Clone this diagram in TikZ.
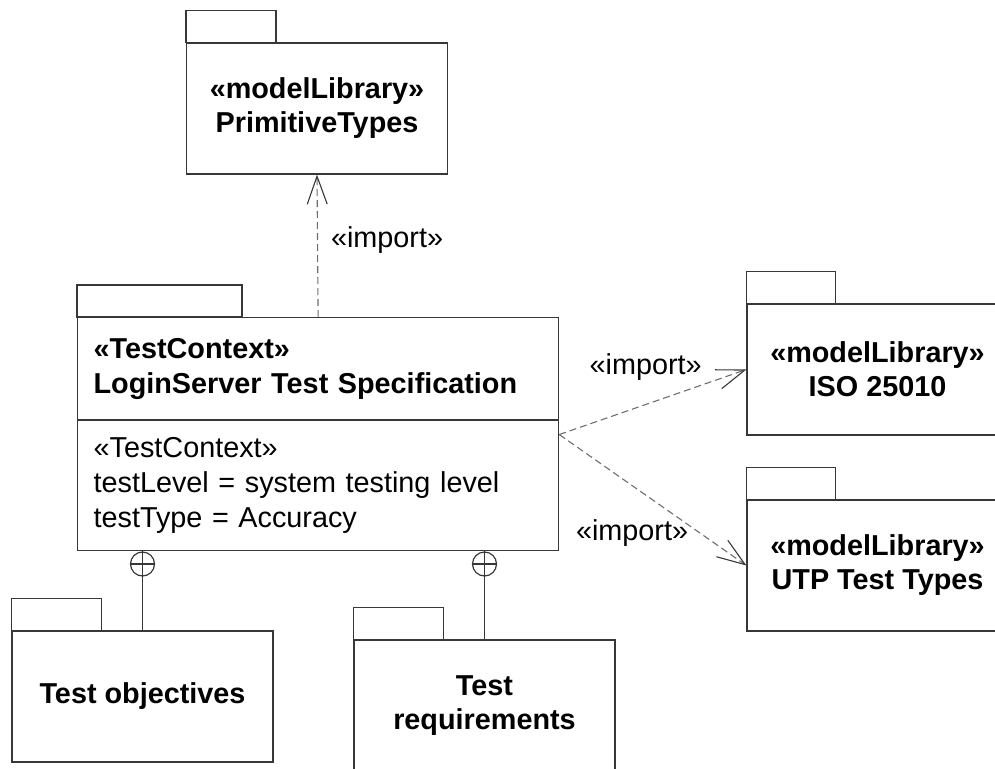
\documentclass[tikz,border=0pt]{standalone}
\usepackage{fontspec}
\setmainfont{Liberation Sans}
\definecolor{edge}{RGB}{55,55,55}
\definecolor{dep}{RGB}{110,110,110}
\usetikzlibrary{arrows.meta,positioning}
\tikzset{
  pkg/.style={draw=edge,line width=1.2pt,minimum width=261pt,minimum height=131pt,
              align=center,inner sep=0pt,font=\bfseries\fontsize{28.8pt}{34pt}\selectfont},
  comp/.style={draw=edge,line width=1.2pt,minimum width=481pt,anchor=north west,
               text width=449pt,inner xsep=16pt,inner ysep=0pt,align=left,
               font=\fontsize{28.8pt}{35pt}\selectfont},
  head/.style={comp,font=\bfseries\fontsize{28.8pt}{35pt}\selectfont},
  wire/.style={draw=edge,line width=1.2pt},
  own/.style={wire,circle,minimum size=24pt,inner sep=0pt,anchor=north},
  imp/.style={draw=dep,line width=1.1pt,dash pattern=on 7pt off 4pt,
              -{Straight Barb[length=28pt,width=20pt,color=edge]}},
  lbl/.style={font=\fontsize{28.8pt}{35pt}\selectfont,inner sep=3pt},
}
\newcommand\pkgtab[2]{\draw[wire] (#1.north west) rectangle ++(#2,-32);}

\begin{document}
\begin{tikzpicture}[x=1pt,y=-1pt]
    \useasboundingbox (0,0) rectangle (995,768);
    \clip (0,0) rectangle (995,768);
    \node[pkg] (prim) at (317,108.5) {«modelLibrary»\\PrimitiveTypes};
    \node[head,minimum height=102pt] (ctxhead) at (77,317)
      {«TestContext»\\LoginServer Test Specification};
    \node[comp,minimum height=130pt] (ctxattr) at (ctxhead.south west)
      {«TestContext»\\testLevel = system testing level\\testType = Accuracy};
    \node[pkg] (iso) at (877.5,369.5) {«modelLibrary»\\ISO 25010};
    \node[pkg] (utp) at (877.5,565.5) {«modelLibrary»\\UTP Test Types};
    \node[pkg] (obj) at (142.5,696.5) {Test objectives};
    \node[pkg] (req) at (484.5,705.5) {Test\\requirements};
    \pkgtab{prim}{90}
    \pkgtab{ctxhead}{165}
    \pkgtab{iso}{89}
    \pkgtab{utp}{89}
    \pkgtab{obj}{90}
    \pkgtab{req}{90}
    \node[own] (own1) at (obj.north |- ctxattr.south) {};
    \node[own] (own2) at (req.north |- ctxattr.south) {};
    \draw[wire] (own1.north) -- (own1.south) (own1.west) -- (own1.east);
    \draw[wire] (own2.north) -- (own2.south) (own2.west) -- (own2.east);
    \draw[wire] (own1.south) -- (obj.north);
    \draw[wire] (own2.south) -- (req.north);
    \draw[imp] (ctxhead.north) -- node[lbl,pos=0.54,right=10pt]{«import»} (prim.south);
    \draw[imp] (ctxattr.12) -- node[lbl,pos=0.78,above left=0pt]{«import»} (iso.west);
    \draw[imp] (ctxattr.12) -- node[lbl,pos=0.75,left=8pt]{«import»} (utp.west);
  \end{tikzpicture}
\end{document}
